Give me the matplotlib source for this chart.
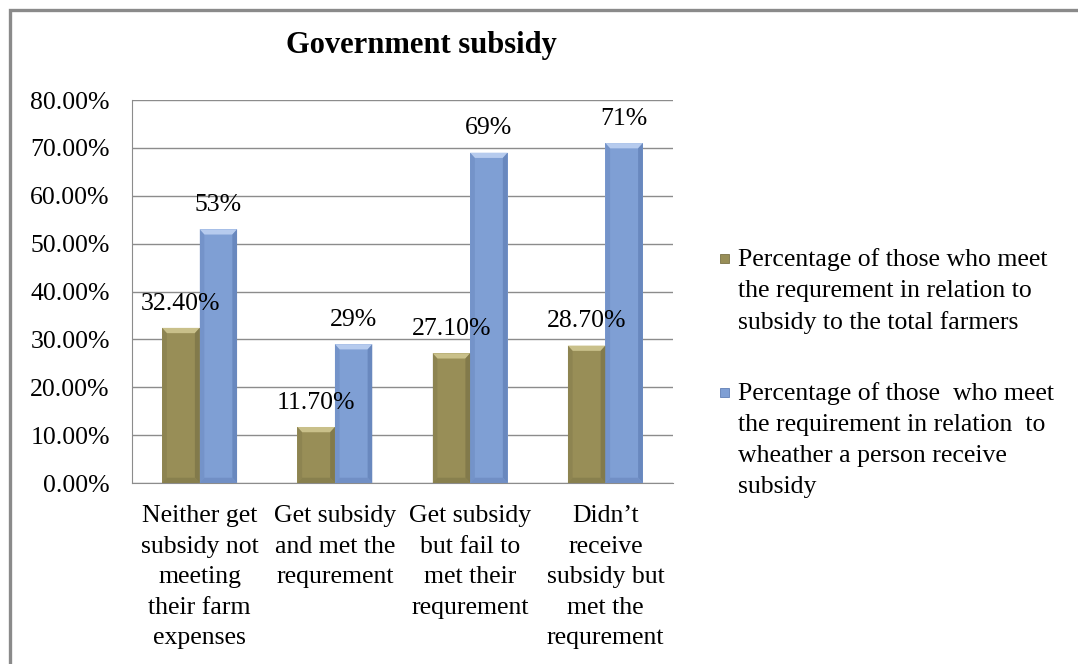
import numpy as np
import matplotlib.pyplot as plt
from matplotlib.patches import Rectangle, Polygon

plt.rcParams['font.family'] = ['Liberation Serif', 'DejaVu Serif']

categories = ['Neither get\nsubsidy not\nmeeting\ntheir farm\nexpenses',
              'Get subsidy\nand met the\nrequrement',
              'Get subsidy\nbut fail to\nmet their\nrequrement',
              'Didn\u2019t\nreceive\nsubsidy but\nmet the\nrequrement']
total_farmers = [32.4, 11.7, 27.1, 28.7]
receive_subsidy = [53, 29, 69, 71]
total_labels = ['32.40%', '11.70%', '27.10%', '28.70%']
receive_labels = ['53%', '29%', '69%', '71%']
series_names = ['Percentage of those who meet\nthe requrement in relation to\nsubsidy to the total farmers',
                'Percentage of those  who meet\nthe requirement in relation  to\nwheather a person receive\nsubsidy']

W, H = 1078, 664
fig = plt.figure(figsize=(W/100, H/100), dpi=100)
ax = fig.add_axes([132/W, 1-483/H, 541/W, 383/H])

x = np.arange(len(categories))
w = 0.277
olive = dict(face='#988e57', top='#c9c08a', side='#7a7246', low='#857d4c')
blue = dict(face='#7f9fd4', top='#b6cbee', side='#607fb5', low='#6e8cc2')

b1 = ax.bar(x - w/2, total_farmers, w, color=olive['face'], linewidth=0,
            label=series_names[0], zorder=3)
b2 = ax.bar(x + w/2, receive_subsidy, w, color=blue['face'], linewidth=0,
            label=series_names[1], zorder=3)

# bevel on every bar: light top, slightly darker sides and bottom
dx, dy = 0.035, 1.1
for bars, c in ((b1, olive), (b2, blue)):
    for r in bars:
        x0, x1, h = r.get_x(), r.get_x() + r.get_width(), r.get_height()
        ax.add_patch(Polygon([(x0, h), (x1, h), (x1 - dx, h - dy), (x0 + dx, h - dy)],
                             color=c['top'], lw=0, zorder=4))
        ax.add_patch(Polygon([(x0, 0), (x0, h), (x0 + dx, h - dy), (x0 + dx, dy)],
                             color=c['side'], lw=0, zorder=4, alpha=0.35))
        ax.add_patch(Polygon([(x1, 0), (x1, h), (x1 - dx, h - dy), (x1 - dx, dy)],
                             color=c['side'], lw=0, zorder=4, alpha=0.7))
        ax.add_patch(Polygon([(x0, 0), (x1, 0), (x1 - dx, dy), (x0 + dx, dy)],
                             color=c['low'], lw=0, zorder=4, alpha=0.8))

for xi, v, s in zip(x - w/2, total_farmers, total_labels):
    ax.text(xi, v + 3.8, s, ha='center', va='baseline', fontsize=18.5, zorder=5)
for xi, v, s in zip(x + w/2, receive_subsidy, receive_labels):
    ax.text(xi, v + 3.8, s, ha='center', va='baseline', fontsize=18.5, zorder=5)

ax.set_ylim(0, 80)
ax.set_xlim(-0.5, 3.5)
ax.set_yticks(np.arange(0, 81, 10))
ax.set_yticklabels(['%.2f%%' % t for t in np.arange(0, 81, 10)], fontsize=18.5)
ax.set_xticks(x)
ax.set_xticklabels(categories, fontsize=18.5, linespacing=1.5)
ax.tick_params(axis='x', length=0, pad=16)
ax.tick_params(axis='y', length=0, pad=16)
ax.yaxis.grid(True, color='#8c8c8c', linewidth=1, zorder=0)
for side in ('top', 'right'):
    ax.spines[side].set_visible(False)
for side in ('left', 'bottom'):
    ax.spines[side].set_color('#8c8c8c')

fig.text(421/W, 1-45/H, 'Government subsidy', ha='center', va='center',
         fontsize=22, fontweight='bold')

# legend entries: square key next to the first text line
for name, c, ymid in ((series_names[0], olive, 259), (series_names[1], blue, 393)):
    fig.patches.append(Rectangle((720/W, 1-(ymid+4)/H), 9/W, 9/H, transform=fig.transFigure,
                                 facecolor=c['face'], edgecolor=c['side'], lw=0.6))
    fig.text(738/W, 1-(ymid-11)/H, name, ha='left', va='top', fontsize=18.5,
             linespacing=1.52, multialignment='left')

fig.patches.append(Rectangle((10/W, -0.05), 1.1, 1 - 10/H + 0.05, transform=fig.transFigure,
                             fill=False, edgecolor='#8a8a8a', linewidth=2.4))

fig.savefig('out.png', dpi=100)
